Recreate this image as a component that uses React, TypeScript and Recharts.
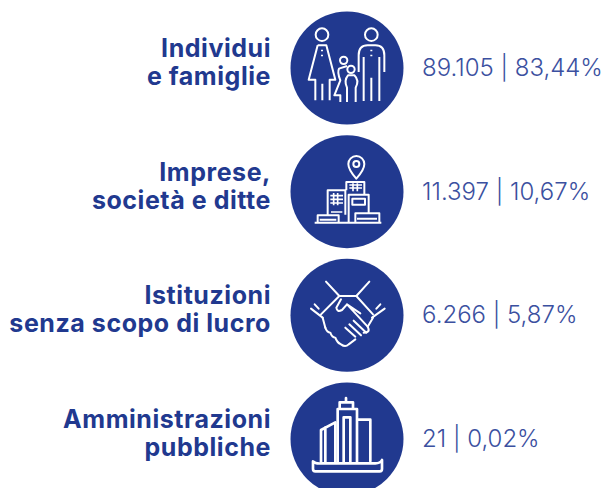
import { ScatterChart, Scatter, XAxis, YAxis } from 'recharts';

const categories = ['Individui e famiglie', 'Imprese, società e ditte', 'Istituzioni senza scopo di lucro', 'Amministrazioni pubbliche'];
const labelLines = [
  ['Individui', 'e famiglie'],
  ['Imprese,', 'società e ditte'],
  ['Istituzioni', 'senza scopo di lucro'],
  ['Amministrazioni', 'pubbliche'],
];
const counts = ['89.105', '11.397', '6.266', '21'];
const shares = ['83,44%', '10,67%', '5,87%', '0,02%'];

const data = categories.map((category, i) => ({
  category,
  column: 0,
  lines: labelLines[i],
  text: `${counts[i]} | ${shares[i]}`,
  icon: i,
}));

const BLUE = '#21398f';
const iconShift = [-3, -1, 2, 5];

// icons traced at 3x, origin is 200,200 at the circle centre
function Icon({ kind }: { kind: number }) {
  const common = {
    fill: 'none',
    stroke: '#fff',
    strokeWidth: 6,
    strokeLinejoin: 'round' as const,
    transform: `translate(0 ${iconShift[kind]})`,
  };
  if (kind === 0) {
    return (
      <g {...common}>
        <circle cx={125} cy={103} r={19} />
        <path d="M112 135H138L165 238H148V300M112 135L85 238H105V300M126 250V300" />
        <path d="M125 148V153M125 163V168M273 148V153M273 163V168" />
        <circle cx={273} cy={103} r={19} />
        <path d="M235 215V165Q235 135 262 135H285Q312 135 312 165V215M250 170V302M273 232V302M297 170V302" />
        <circle cx={190} cy={180} r={11} />
        <path d="M200 197L176 205Q170 215 180 240L162 285H180V305" />
        <circle cx={212} cy={207} r={11} />
        <path d="M200 305V262Q190 240 203 225H222Q238 240 226 262V305" />
      </g>
    );
  }
  if (kind === 1) {
    return (
      <g {...common}>
        <path d="M228 162Q204 135 204 118A24 24 0 0 1 252 118Q252 135 228 162Z" />
        <circle cx={228} cy={118} r={9} />
        <path d="M198 197V172H252V208M142 270V197H195V270M205 292V210H265V264M112 292V272H175V292M225 292V266H297V292M103 294H303M216 222H254V240H216ZM118 285H168M230 282H290" />
        <path d="M207 181H245M207 190H245M218 176V200M231 176V200M150 213H188M150 224H188M150 235H188M160 205V242M172 205V242M152 262H186" strokeWidth={5} />
      </g>
    );
  }
  if (kind === 2) {
    return (
      <g {...common} strokeLinecap="round">
        <path d="M137 97L177 140H228L267 97M92 178L127 205M103 165L115 178M313 178L275 205M300 165L288 178" />
        <path d="M177 140L122 195M228 140L278 195M278 205L262 232M127 205L135 235" />
        <path d="M182 150L168 175Q170 190 185 182L200 165L240 192M200 165L262 232Q272 250 250 250" />
        <path d="M195 235L225 262M207 225L242 258M220 214L258 250" />
        <path d="M135 235Q140 250 150 250Q155 265 165 265Q170 280 182 285Q195 295 205 285L225 270" />
      </g>
    );
  }
  return (
    <g {...common} strokeWidth={8} strokeLinecap="round">
      <path d="M197 72V85M178 105V85H218V105M172 265V105H230V265M190 265V130H210V265" />
      <path d="M122 265V168L165 145V265M135 265V160M232 137H270V262" />
      <path d="M98 262Q105 270 125 268H285Q300 268 305 258V285Q305 292 298 292H105Q98 292 98 285Z" />
    </g>
  );
}

function Row(props: any) {
  const { cx, cy, payload } = props;
  const { lines, text, icon } = payload;
  return (
    <g>
      <circle cx={cx} cy={cy} r={56.5} fill={BLUE} />
      <g transform={`translate(${cx} ${cy}) scale(${1 / 3}) translate(-200 -200)`}>
        <Icon kind={icon} />
      </g>
      <text textAnchor="end" fontFamily="Inter, sans-serif" fontWeight={700} fontSize={25} letterSpacing={0.55} fill={BLUE}>
        <tspan x={271} y={cy - 11}>{lines[0]}</tspan>
        <tspan x={271} y={cy + 17}>{lines[1]}</tspan>
      </text>
      <text x={422} y={cy + 8} fontFamily="Inter, sans-serif" fontWeight={300} fontSize={24} fill="#3b50a0">
        {text}
      </text>
    </g>
  );
}

export default function App() {
  return (
    <div style={{ position: 'absolute', left: 0, top: 0, width: 605, height: 488 }}>
      <ScatterChart width={605} height={488} data={data} margin={{ top: 68, right: 0, bottom: 49, left: 89 }}>
        <XAxis type="number" dataKey="column" domain={[-1, 1]} hide />
        <YAxis type="category" dataKey="category" scale="point" reversed hide width={0} />
        <Scatter data={data} isAnimationActive={false} shape={(p: any) => <Row {...p} />} />
      </ScatterChart>
    </div>
  );
}
